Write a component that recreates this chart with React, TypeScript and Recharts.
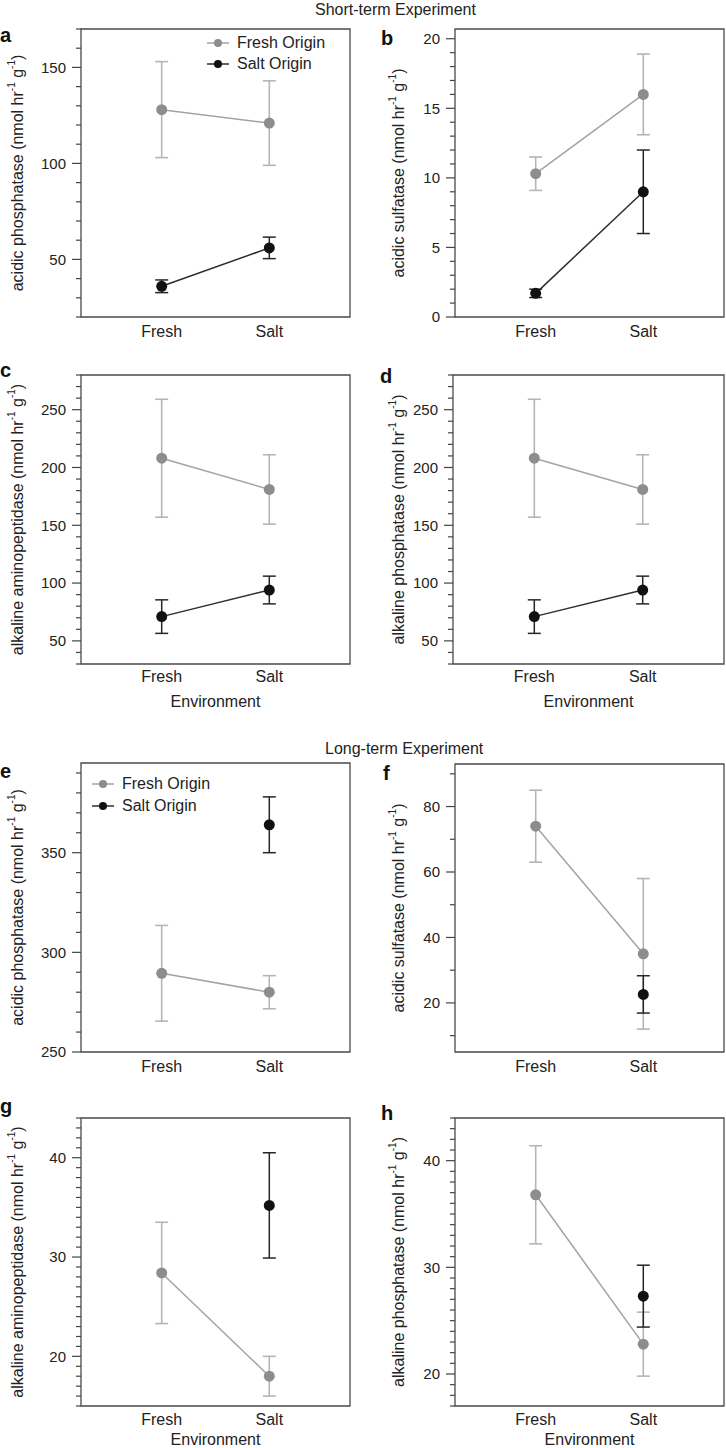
import React from "react";
import { LineChart, Line, XAxis, YAxis, ErrorBar, ReferenceArea, Legend } from "recharts";

const FONT = '"Liberation Sans", Arial, Helvetica, sans-serif';
const INK = "#222";

// x categories
const environments = ["Fresh", "Salt"];
const envX = [1, 2];
const envDomain: [number, number] = [0.25, 2.75];

const shortTitle = "Short-term Experiment";
const longTitle = "Long-term Experiment";
const originNames = ["Fresh Origin", "Salt Origin"];

// short-term: a acidic phosphatase
const aFreshMean = [128, 121];
const aFreshErr = [25, 22];
const aSaltMean = [36, 56];
const aSaltErr = [3.3, 5.6];

// short-term: b acidic sulfatase
const bFreshMean = [10.3, 16.0];
const bFreshErr = [1.2, 2.9];
const bSaltMean = [1.7, 9.0];
const bSaltErr = [0.3, 3.0];

// short-term: c alkaline aminopeptidase
const cFreshMean = [208, 181];
const cFreshErr = [51, 30];
const cSaltMean = [71, 94];
const cSaltErr = [14.5, 12];

// short-term: d alkaline phosphatase
const dFreshMean = [208, 181];
const dFreshErr = [51, 30];
const dSaltMean = [71, 94];
const dSaltErr = [14.5, 12];

// long-term: e acidic phosphatase
const eFreshMean = [289.5, 280];
const eFreshErr = [24, 8.3];
const eSaltMean = [null, 364];
const eSaltErr = [null, 14];

// long-term: f acidic sulfatase
const fFreshMean = [74, 35];
const fFreshErr = [11, 23];
const fSaltMean = [null, 22.6];
const fSaltErr = [null, 5.7];

// long-term: g alkaline aminopeptidase
const gFreshMean = [28.4, 18.0];
const gFreshErr = [5.1, 2.0];
const gSaltMean = [null, 35.2];
const gSaltErr = [null, 5.3];

// long-term: h alkaline phosphatase
const hFreshMean = [36.8, 22.8];
const hFreshErr = [4.6, 3.0];
const hSaltMean = [null, 27.3];
const hSaltErr = [null, 2.9];

const FRESH_STYLE = { line: "#a3a3a3", dot: "#8d8d8d", err: "#b5b5b5" };
const SALT_STYLE = { line: "#2e2e2e", dot: "#111111", err: "#262626" };

function toPoints(mean: (number | null)[], err: (number | null)[]) {
  const pts: { x: number; y: number; err: number }[] = [];
  mean.forEach((m, i) => {
    if (m != null) pts.push({ x: envX[i], y: m, err: err[i] ?? 0 });
  });
  return pts;
}

const LEFT = { x0: 0, left: 81, right: 350, labelX: 17 };
const RIGHT_B = { x0: 363, left: 455, right: 724, labelX: 398 };
const RIGHT_D = { x0: 363, left: 453, right: 724, labelX: 398 };

const panels = [
  {
    letter: "a", letterPos: [0, 42], col: LEFT, top: 29, bottom: 317,
    yLabel: "acidic phosphatase", domain: [20, 170], majors: [50, 100, 150], step: 10,
    fresh: toPoints(aFreshMean, aFreshErr), salt: toPoints(aSaltMean, aSaltErr),
    tickGap: 20, legend: { x: 207, y: 43, row: 20.6 },
  },
  {
    letter: "b", letterPos: [381, 45], col: RIGHT_B, top: 29, bottom: 317,
    yLabel: "acidic sulfatase", domain: [0, 20.7], majors: [0, 5, 10, 15, 20], step: 1,
    fresh: toPoints(bFreshMean, bFreshErr), salt: toPoints(bSaltMean, bSaltErr),
    tickGap: 20,
  },
  {
    letter: "c", letterPos: [0, 377], col: LEFT, top: 375, bottom: 664,
    yLabel: "alkaline aminopeptidase", domain: [30, 280], majors: [50, 100, 150, 200, 250], step: 10,
    fresh: toPoints(cFreshMean, cFreshErr), salt: toPoints(cSaltMean, cSaltErr),
    tickGap: 18, env: 43,
  },
  {
    letter: "d", letterPos: [380, 383], col: RIGHT_D, top: 375, bottom: 664,
    yLabel: "alkaline phosphatase", domain: [30, 280], majors: [50, 100, 150, 200, 250], step: 10,
    fresh: toPoints(dFreshMean, dFreshErr), salt: toPoints(dSaltMean, dSaltErr),
    tickGap: 18, env: 43,
  },
  {
    letter: "e", letterPos: [0, 778], col: LEFT, top: 763, bottom: 1052,
    yLabel: "acidic phosphatase", domain: [250, 395], majors: [250, 300, 350], step: 10,
    fresh: toPoints(eFreshMean, eFreshErr), salt: toPoints(eSaltMean, eSaltErr),
    tickGap: 20, legend: { x: 92, y: 783.5, row: 22.5 },
  },
  {
    letter: "f", letterPos: [383, 780], col: RIGHT_B, top: 764, bottom: 1052,
    yLabel: "acidic sulfatase", domain: [5, 93], majors: [20, 40, 60, 80], step: 10,
    fresh: toPoints(fFreshMean, fFreshErr), salt: toPoints(fSaltMean, fSaltErr),
    tickGap: 20,
  },
  {
    letter: "g", letterPos: [0, 1113], col: LEFT, top: 1118, bottom: 1406,
    yLabel: "alkaline aminopeptidase", domain: [15, 44], majors: [20, 30, 40], step: 1,
    fresh: toPoints(gFreshMean, gFreshErr), salt: toPoints(gSaltMean, gSaltErr),
    tickGap: 19, env: 39,
  },
  {
    letter: "h", letterPos: [381, 1120], col: RIGHT_B, top: 1118, bottom: 1406,
    yLabel: "alkaline phosphatase", domain: [17, 44], majors: [20, 30, 40], step: 1,
    fresh: toPoints(hFreshMean, hFreshErr), salt: toPoints(hSaltMean, hSaltErr),
    tickGap: 19, env: 39,
  },
];

function Panel({ cfg }: { cfg: any }) {
  const { col, top, bottom, domain, majors, step, fresh, salt, legend, tickGap } = cfg;
  const width = 363;
  const chartTop = top - 12;
  const xAxisH = 30;
  const height = bottom - chartTop + xAxisH;
  const yAxisW = 40;
  const margin = {
    top: top - chartTop,
    right: col.x0 + width - col.right,
    bottom: 0,
    left: col.left - col.x0 - yAxisW,
  };
  const plotLeft = col.left - col.x0;
  const plotBottom = bottom - chartTop;

  const ticks: number[] = [];
  for (let v = Math.ceil(domain[0] / step) * step; v <= domain[1] + 1e-9; v += step) {
    ticks.push(Math.round(v * 1000) / 1000);
  }

  const yTick = (props: any) => {
    const { y, payload } = props;
    const major = majors.includes(payload.value);
    return (
      <g>
        <line x1={plotLeft - (major ? 9 : 5)} x2={plotLeft} y1={y} y2={y} stroke="#444" strokeWidth={1.2} />
        {major && (
          <text x={plotLeft - 15} y={y} dy="0.36em" textAnchor="end" fontSize={15} fontFamily={FONT} fill={INK}>
            {payload.value}
          </text>
        )}
      </g>
    );
  };

  const xTick = (props: any) => {
    const { x, payload } = props;
    return (
      <text x={x} y={plotBottom + tickGap} textAnchor="middle" fontSize={16} fontFamily={FONT} fill={INK}>
        {environments[envX.indexOf(payload.value)]}
      </text>
    );
  };

  const renderLegend = () => (
    <div style={{ fontFamily: FONT, fontSize: 16, color: INK }}>
      {[FRESH_STYLE, SALT_STYLE].map((s, i) => (
        <div key={i} style={{ display: "flex", alignItems: "center", height: legend.row, whiteSpace: "nowrap" }}>
          <svg width={22} height={10} style={{ marginRight: 8 }}>
            <line x1={0} x2={22} y1={5} y2={5} stroke={s.line} strokeWidth={1.5} />
            <circle cx={11} cy={5} r={4} fill={s.dot} />
          </svg>
          <span>{originNames[i]}</span>
        </div>
      ))}
    </div>
  );

  return (
    <div style={{ position: "absolute", left: col.x0, top: chartTop, width, height }}>
      <LineChart width={width} height={height} margin={margin}>
        <XAxis
          type="number"
          dataKey="x"
          domain={envDomain}
          ticks={envX}
          interval={0}
          height={xAxisH}
          tickLine={false}
          axisLine={false}
          allowDataOverflow
          tick={xTick}
        />
        <YAxis
          type="number"
          domain={domain}
          ticks={ticks}
          interval={0}
          width={yAxisW}
          tickLine={false}
          axisLine={false}
          allowDataOverflow
          tick={yTick}
        />
        <ReferenceArea
          x1={envDomain[0]}
          x2={envDomain[1]}
          y1={domain[0]}
          y2={domain[1]}
          fill="none"
          stroke="#4a4a4a"
          strokeWidth={1.3}
          ifOverflow="visible"
        />
        {legend && (
          <Legend
            layout="vertical"
            align="center"
            verticalAlign="middle"
            content={renderLegend}
            wrapperStyle={{
              left: legend.x - col.x0,
              top: legend.y - legend.row / 2 - chartTop,
              width: "auto",
              height: "auto",
            }}
          />
        )}
        <Line
          data={fresh}
          dataKey="y"
          name={originNames[0]}
          stroke={FRESH_STYLE.line}
          strokeWidth={1.5}
          dot={{ r: 5.5, fill: FRESH_STYLE.dot, stroke: FRESH_STYLE.dot, strokeWidth: 0 }}
          isAnimationActive={false}
        >
          <ErrorBar dataKey="err" direction="y" width={6.5} stroke={FRESH_STYLE.err} strokeWidth={1.6} isAnimationActive={false} />
        </Line>
        <Line
          data={salt}
          dataKey="y"
          name={originNames[1]}
          stroke={SALT_STYLE.line}
          strokeWidth={1.5}
          dot={{ r: 5.5, fill: SALT_STYLE.dot, stroke: SALT_STYLE.dot, strokeWidth: 0 }}
          isAnimationActive={false}
        >
          <ErrorBar dataKey="err" direction="y" width={6.5} stroke={SALT_STYLE.err} strokeWidth={1.5} isAnimationActive={false} />
        </Line>
      </LineChart>
    </div>
  );
}

function YLabel({ x, y, name }: { x: number; y: number; name: string }) {
  return (
    <text
      transform={`translate(${x},${y}) rotate(-90)`}
      textAnchor="middle"
      dominantBaseline="central"
      fontSize={16}
      fontFamily={FONT}
      fill={INK}
    >
      {name} (nmol hr
      <tspan dy={-6} fontSize={10}>-1</tspan>
      <tspan dy={6}> g</tspan>
      <tspan dy={-6} fontSize={10}>-1</tspan>
      <tspan dy={6}>)</tspan>
    </text>
  );
}

export default function App() {
  return (
    <div style={{ position: "absolute", left: 0, top: 0, width: 726, height: 1448, background: "#fff", overflow: "hidden" }}>
      {panels.map((p) => (
        <Panel key={p.letter} cfg={p} />
      ))}
      <svg width={726} height={1448} style={{ position: "absolute", left: 0, top: 0, pointerEvents: "none" }}>
        <text x={315} y={15} fontSize={16} fontFamily={FONT} fill={INK}>{shortTitle}</text>
        <text x={325} y={753.5} fontSize={16} fontFamily={FONT} fill={INK}>{longTitle}</text>
        {panels.map((p) => (
          <g key={p.letter}>
            <text x={p.letterPos[0]} y={p.letterPos[1]} fontSize={20} fontWeight="bold" fontFamily={FONT} fill="#111">
              {p.letter}
            </text>
            <YLabel x={p.col.labelX} y={(p.top + p.bottom) / 2} name={p.yLabel} />
            {p.env && (
              <text
                x={(p.col.left + p.col.right) / 2}
                y={p.bottom + p.env}
                textAnchor="middle"
                fontSize={16}
                fontFamily={FONT}
                fill={INK}
              >
                Environment
              </text>
            )}
          </g>
        ))}
      </svg>
    </div>
  );
}
